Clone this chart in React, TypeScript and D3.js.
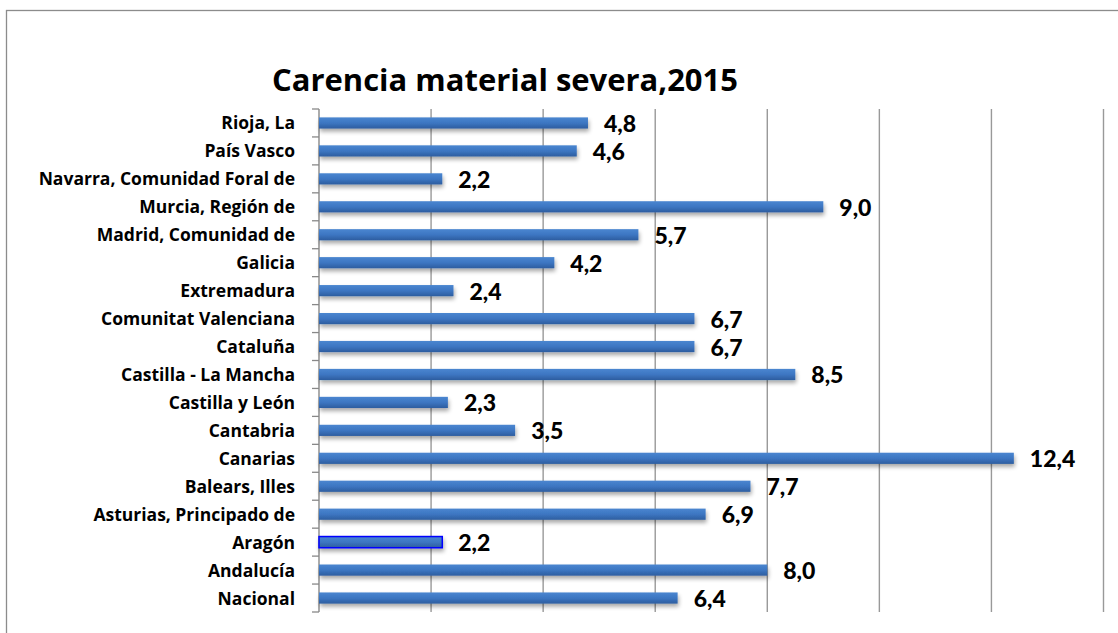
import React from "react";
import * as d3 from "d3";

const categories = [
  "Rioja, La",
  "País Vasco",
  "Navarra, Comunidad Foral de",
  "Murcia, Región de",
  "Madrid, Comunidad de",
  "Galicia",
  "Extremadura",
  "Comunitat Valenciana",
  "Cataluña",
  "Castilla - La Mancha",
  "Castilla y León",
  "Cantabria",
  "Canarias",
  "Balears, Illes",
  "Asturias, Principado de",
  "Aragón",
  "Andalucía",
  "Nacional",
];
const values = [4.8, 4.6, 2.2, 9.0, 5.7, 4.2, 2.4, 6.7, 6.7, 8.5, 2.3, 3.5, 12.4, 7.7, 6.9, 2.2, 8.0, 6.4];
const xTicks = [0, 2, 4, 6, 8, 10, 12, 14];
const highlighted = "Aragón";
const title = "Carencia material severa,2015";

export default function App() {
  const W = 1118, H = 633;
  const left = 319, right = 1103.5, top = 109, bottom = 612;
  const x = d3.scaleLinear().domain([0, 14]).range([left, right]);
  const y = d3.scaleBand().domain(categories).range([top, bottom]).paddingInner(0.6).paddingOuter(0.3);
  const bounds = d3.range(categories.length + 1).map((i) => top + i * ((bottom - top) / categories.length));
  const labFont = "'Open Sans', sans-serif";
  const valFont = "Lato, 'Open Sans', sans-serif";
  return (
    <svg width={W} height={H} style={{ position: "absolute", left: 0, top: 0 }}>
      <defs>
        <linearGradient id="barG" x1="0" y1="0" x2="0" y2="1">
          <stop offset="0" stopColor="#4a86d0" />
          <stop offset="0.5" stopColor="#3d76c2" />
          <stop offset="1" stopColor="#2d5d9f" />
        </linearGradient>
        <filter id="sh" x="-5%" y="-50%" width="110%" height="250%">
          <feGaussianBlur in="SourceAlpha" stdDeviation="2" />
          <feOffset dx="1" dy="3" result="b" />
          <feComponentTransfer><feFuncA type="linear" slope="0.35" /></feComponentTransfer>
          <feMerge><feMergeNode /><feMergeNode in="SourceGraphic" /></feMerge>
        </filter>
      </defs>
      <rect x={0} y={0} width={W} height={H} fill="#fff" />
      <rect x={6.5} y={10.5} width={1130} height={700} fill="#fff" stroke="#8c8c8c" strokeWidth={1.3} />
      <text x={505} y={91} textAnchor="middle" fontFamily={labFont} fontWeight="bold" fontSize={31} fill="#000"
        textLength={466} lengthAdjust="spacingAndGlyphs">{title}</text>
      {xTicks.map((t) => (
        <line key={t} x1={x(t)} x2={x(t)} y1={top} y2={bottom} stroke={t === 0 ? "#888" : "#999"} strokeWidth={1.4} />
      ))}
      {bounds.map((b, i) => (
        <line key={i} x1={left - 7} x2={left} y1={b} y2={b} stroke="#888" strokeWidth={1.3} />
      ))}
      {categories.map((c, i) => {
        const yy = y(c)!;
        const hl = c === highlighted;
        return (
          <g key={c}>
            <rect x={x(0)} y={yy} width={x(values[i]) - x(0)} height={y.bandwidth()} fill="url(#barG)" filter="url(#sh)"
              stroke={hl ? "#0000ff" : "none"} strokeWidth={hl ? 1.5 : 0} />
            <text x={295} y={yy + y.bandwidth() / 2 + 6.5} textAnchor="end" fontFamily={labFont} fontWeight="bold" fontSize={17.5} fill="#000">{c}</text>
            <text x={x(values[i]) + 16} y={yy + y.bandwidth() / 2 + 9} fontFamily={valFont} fontWeight="900" fontSize={23} fill="#000">
              {values[i].toFixed(1).replace(".", ",")}
            </text>
          </g>
        );
      })}
    </svg>
  );
}
